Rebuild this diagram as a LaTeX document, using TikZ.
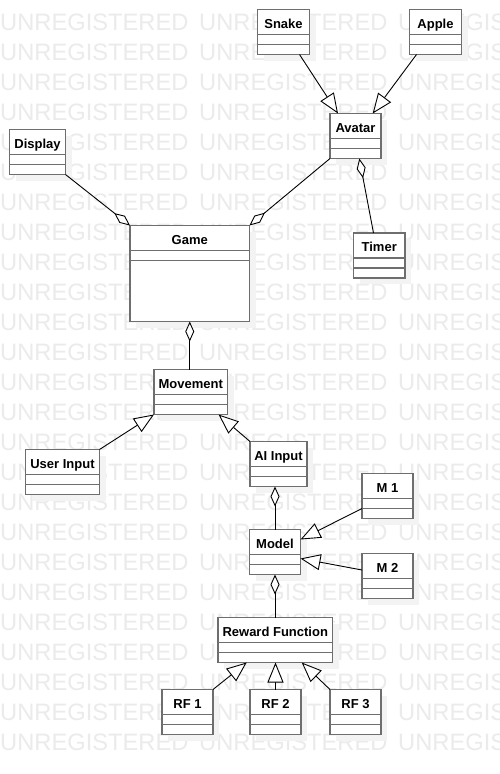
\documentclass[tikz,border=0pt]{standalone}
\usepackage{fontspec}
\setmainfont{Liberation Sans}
\usetikzlibrary{arrows.meta,calc}
\definecolor{boxc}{HTML}{6E6E6E}
\definecolor{wmc}{HTML}{EBEBEB}
\definecolor{shc}{HTML}{F3F3F3}
\tikzset{
  cls/.style={draw=boxc, line width=1.6pt, fill=white, inner sep=0pt, outer sep=0pt},
  clsline/.style={draw=boxc, line width=1.6pt},
  ttl/.style={anchor=base, inner sep=0pt, font=\fontsize{13}{15}\selectfont\bfseries},
  wm/.style={anchor=base west, inner sep=0pt, text=wmc, font=\fontsize{23.7}{24}\selectfont},
  genarrow/.style={draw=black, line width=0.9pt, -{Triangle[open, length=20pt, width=16pt, fill=white]}},
  aggarrow/.style={draw=black, line width=0.9pt, -{Diamond[open, length=20pt, width=9pt, fill=white]}}
}
\newcommand\umlclass[6]{%
  \fill[shc] (#2+6,#3+6) rectangle ++(#4,#5);
  \node[cls, minimum width=#4pt, minimum height=#5pt, anchor=north west] (#1) at (#2,#3) {};
  \draw[clsline] ([yshift=-25pt]#1.north west) -- ([yshift=-25pt]#1.north east);
  \draw[clsline] ([yshift=-35pt]#1.north west) -- ([yshift=-35pt]#1.north east);
  \node[ttl] (#1-title) at ([yshift=-18.5pt]#1.north) {#6};
}
\begin{document}
\begin{tikzpicture}[x=1pt, y=-1pt]
\fill[white] (0,0) rectangle (500,774);
\useasboundingbox (0,0) rectangle (500,774);
% watermark
\foreach \r in {0,...,24}{
  \foreach \c/\cx in {0/0,1/199,2/398}{
    \node[wm] (wm-\r-\c) at (\cx,{30+30*\r}) {UNREGISTERED};
  }
}
% classes
\umlclass{snake}{257.5}{9.5}{52}{45}{Snake}
\umlclass{apple}{409.5}{9.5}{52}{45}{Apple}
\umlclass{avatar}{330}{113.5}{51}{45}{Avatar}
\umlclass{display}{9.5}{129.5}{56}{45}{Display}
\umlclass{timer}{353.5}{233}{51.5}{45}{Timer}
\umlclass{game}{130}{225.5}{119.5}{96}{Game}
\umlclass{movement}{154}{369.5}{73.5}{45}{Movement}
\umlclass{userinput}{25.5}{449.5}{74}{45}{User Input}
\umlclass{aiinput}{250}{441.5}{57}{45}{AI Input}
\umlclass{mone}{362}{473.5}{51}{45}{M 1}
\umlclass{model}{249.5}{529.5}{51}{45}{Model}
\umlclass{mtwo}{362}{553.5}{51}{45}{M 2}
\umlclass{reward}{218}{617.5}{114.5}{45}{Reward Function}
\umlclass{rfone}{162}{689.5}{51}{45}{RF 1}
\umlclass{rftwo}{250}{689.5}{51}{45}{RF 2}
\umlclass{rfthree}{330}{689.5}{51}{45}{RF 3}
% generalizations
\draw[genarrow] ([xshift=42pt]snake.south west) -- ([xshift=8pt]avatar.north west);
\draw[genarrow] ([xshift=7pt]apple.south west) -- ([xshift=42.7pt]avatar.north west);
\draw[genarrow] (userinput.north east) -- (movement.south west);
\draw[genarrow] (aiinput.north west) -- ([xshift=64.5pt]movement.south west);
\draw[genarrow] ([yshift=-35pt]mone.north west) -- ([yshift=-10pt]model.north east);
\draw[genarrow] ([yshift=-16.5pt]mtwo.north west) -- ([yshift=-29pt]model.north east);
\draw[genarrow] (rfone.north east) -- ([xshift=28.7pt]reward.south west);
\draw[genarrow] (rftwo.north) -- (rftwo.north |- reward.south);
\draw[genarrow] (rfthree.north west) -- ([xshift=83.7pt]reward.south west);
% aggregations
\draw[aggarrow] (display.south east) -- (game.north west);
\draw[aggarrow] (avatar.south west) -- (game.north east);
\draw[aggarrow] ([xshift=20pt]timer.north west) -- ([xshift=29.3pt]avatar.south west);
\draw[aggarrow] (game.south |- movement.north) -- (game.south);
\draw[aggarrow] (model.north) -- (model.north |- aiinput.south);
\draw[aggarrow] (reward.north -| model.south) -- (model.south);
\end{tikzpicture}
\end{document}
